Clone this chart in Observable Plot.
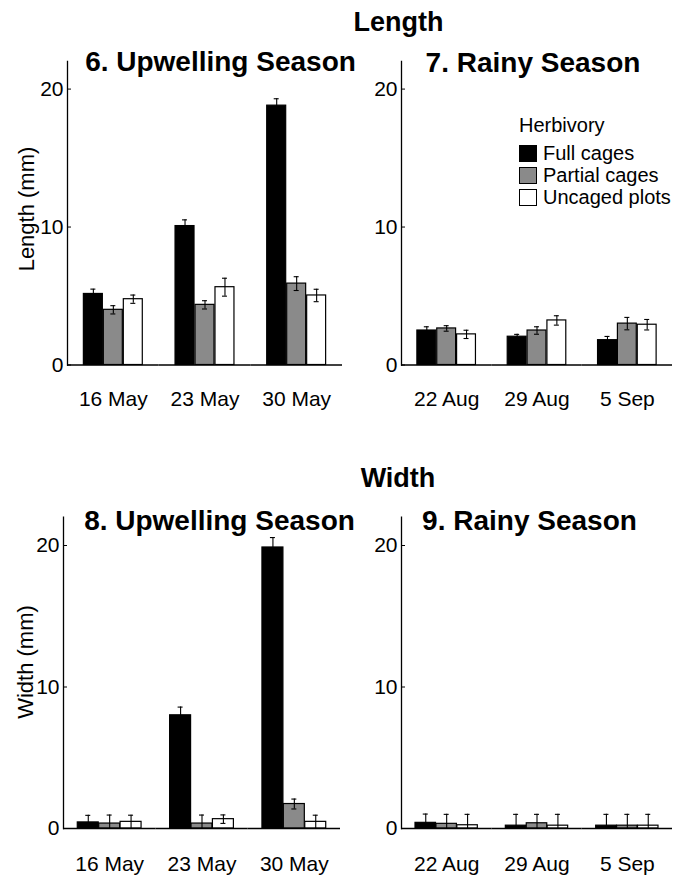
<!DOCTYPE html>
<html>
<head>
<meta charset="utf-8">
<script src="https://cdn.jsdelivr.net/npm/d3@7"></script>
<script src="https://cdn.jsdelivr.net/npm/@observablehq/plot@0.6"></script>
<style>
  html, body { margin: 0; padding: 0; background: #fff; }
  #chart { position: relative; width: 679px; height: 878px; overflow: hidden;
           font-family: "Liberation Sans", Arial, sans-serif; color: #000; }
  .abs { position: absolute; white-space: nowrap; }
  .title { font-weight: bold; text-align: center; width: 400px; }
  .leg { font-size: 20px; line-height: 20px; }
  .ylab { font-size: 22px; line-height: 22px; width: 200px; text-align: center;
          transform: rotate(-90deg); transform-origin: 50% 50%; }
  .sw { position: absolute; width: 16px; height: 15px; border: 1.2px solid #000; }
  svg { overflow: visible; }
</style>
</head>
<body>
<div id="chart"></div>
<script>
// ---------- data ----------
const treatments = ["Full cages", "Partial cages", "Uncaged plots"];
const treatmentColors = ["#000000", "#8a8a8a", "#ffffff"];
const datesUpwelling = ["16 May", "23 May", "30 May"];
const datesRainy = ["22 Aug", "29 Aug", "5 Sep"];
const yTicks = [0, 10, 20];

// rows = dates, columns = treatments (Full, Partial, Uncaged)
const lengthUpwelling   = [[5.15, 4.0, 4.77], [10.07, 4.36, 5.64], [18.8, 5.9, 5.04]];
const lengthUpwellingSE = [[0.35, 0.3, 0.3], [0.45, 0.3, 0.65], [0.5, 0.5, 0.45]];
const lengthRainy       = [[2.5, 2.65, 2.22], [2.05, 2.5, 3.23], [1.8, 3.0, 2.92]];
const lengthRainySE     = [[0.27, 0.2, 0.3], [0.17, 0.27, 0.34], [0.27, 0.45, 0.38]];
const widthUpwelling    = [[0.43, 0.35, 0.47], [8.0, 0.35, 0.66], [19.86, 1.73, 0.47]];
const widthUpwellingSE  = [[0.5, 0.6, 0.47], [0.58, 0.6, 0.3], [0.7, 0.35, 0.47]];
const widthRainy        = [[0.4, 0.33, 0.23], [0.2, 0.37, 0.2], [0.2, 0.2, 0.2]];
const widthRainySE      = [[0.62, 0.67, 0.77], [0.8, 0.63, 0.8], [0.8, 0.8, 0.8]];

const FONT = '"Liberation Sans", Arial, sans-serif';
const chart = document.getElementById("chart");

function makePanel(o) {
  const data = [];
  o.dates.forEach((d, i) => treatments.forEach((t, j) =>
    data.push({date: d, treatment: t, value: o.values[i][j], err: o.errs[i][j]})));
  const frameW = o.width - o.marginLeft - o.marginRight;
  const facetW = frameW / o.dates.length;
  const step = facetW / (treatments.length - o.pi + 2 * o.po);
  const bw = step * (1 - o.pi);
  const capInset = (bw - 5) / 2;
  const lo = d => Math.max(0, d.value - d.err);
  const hi = d => d.value + d.err;
  const svg = Plot.plot({
    width: o.width, height: o.height,
    marginLeft: o.marginLeft, marginRight: o.marginRight,
    marginTop: o.marginTop, marginBottom: o.marginBottom,
    style: {fontFamily: FONT, fontSize: "21px", color: "#000", background: "transparent", overflow: "visible"},
    fx: {domain: o.dates, padding: 0, round: false, label: null},
    x: {domain: treatments, paddingInner: o.pi, paddingOuter: o.po, round: false, axis: null},
    y: {domain: [0, 22], axis: null},
    color: {domain: treatments, range: treatmentColors},
    marks: [
      Plot.barY(data, {fx: "date", x: "treatment", y: "value", fill: "treatment",
        stroke: "#000", strokeWidth: 1.2}),
      Plot.ruleX(data, {fx: "date", x: "treatment", y1: lo, y2: hi, stroke: "#000", strokeWidth: 1.1}),
      Plot.tickY(data, {fx: "date", x: "treatment", y: hi, insetLeft: capInset, insetRight: capInset,
        stroke: "#000", strokeWidth: 1.1}),
      Plot.tickY(data.filter(d => lo(d) > 0), {fx: "date", x: "treatment", y: lo,
        insetLeft: capInset, insetRight: capInset, stroke: "#000", strokeWidth: 1.1}),
      Plot.ruleY([0], {stroke: "#000", strokeWidth: 1.3}),
      Plot.frame({anchor: "left", facetAnchor: "left", stroke: "#000", strokeWidth: 1.3}),
      Plot.tickY(yTicks, {y: d => d, insetRight: facetW - 4, facetAnchor: "left",
        stroke: "#000", strokeWidth: 1}),
      Plot.axisY({ticks: yTicks, tickSize: 0, tickPadding: 4, label: null, fontSize: 21}),
      Plot.axisFx({anchor: "bottom", tickSize: 0, tickPadding: o.datePad, label: null, fontSize: 21})
    ]
  });
  svg.style.position = "absolute";
  svg.style.left = o.left + "px";
  svg.style.top = o.top + "px";
  chart.appendChild(svg);
}

// top row: frame y 61..364.5
makePanel({dates: datesUpwelling, values: lengthUpwelling, errs: lengthUpwellingSE,
  left: 0, top: 40, width: 345, height: 380, marginLeft: 67, marginRight: 3,
  marginTop: 21, marginBottom: 55.5, pi: 0.05, po: 0.82, datePad: 26});
makePanel({dates: datesRainy, values: lengthRainy, errs: lengthRainySE,
  left: 345, top: 40, width: 334, height: 380, marginLeft: 56, marginRight: 7,
  marginTop: 21, marginBottom: 55.5, pi: 0.05, po: 0.8, datePad: 26});
// bottom row: frame y 516.7..828
makePanel({dates: datesUpwelling, values: widthUpwelling, errs: widthUpwellingSE,
  left: 0, top: 500, width: 345, height: 378, marginLeft: 63, marginRight: 5,
  marginTop: 16.7, marginBottom: 50, pi: 0.02, po: 0.667, datePad: 28});
makePanel({dates: datesRainy, values: widthRainy, errs: widthRainySE,
  left: 345, top: 500, width: 334, height: 378, marginLeft: 56, marginRight: 7,
  marginTop: 16.7, marginBottom: 50, pi: 0.02, po: 0.67, datePad: 28});

// ---------- titles ----------
function title(text, cx, baseline, size) {
  const el = document.createElement("div");
  el.className = "abs title";
  el.textContent = text;
  el.style.fontSize = size + "px";
  el.style.lineHeight = size + "px";
  el.style.left = (cx - 200) + "px";
  el.style.top = (baseline - 0.8465 * size) + "px";
  chart.appendChild(el);
}
title("Length", 398.5, 32, 27);
title("6. Upwelling Season", 220.5, 72, 28);
title("7. Rainy Season", 533, 72.5, 28);
title("Width", 398, 488, 27);
title("8. Upwelling Season", 219.5, 531, 28);
title("9. Rainy Season", 529.5, 531, 28);

// ---------- y-axis labels ----------
function yLabel(text, cx, cy) {
  const el = document.createElement("div");
  el.className = "abs ylab";
  el.textContent = text;
  el.style.left = (cx - 100) + "px";
  el.style.top = (cy - 11) + "px";
  chart.appendChild(el);
}
yLabel("Length (mm)", 27, 209);
yLabel("Width (mm)", 26, 662);

// ---------- legend ----------
function legText(text, x, baseline) {
  const el = document.createElement("div");
  el.className = "abs leg";
  el.textContent = text;
  el.style.left = x + "px";
  el.style.top = (baseline - 0.8465 * 20) + "px";
  chart.appendChild(el);
}
legText("Herbivory", 519, 132);
const legBase = [160, 182, 203.5];
const swTop = [145, 167, 188.5];
treatments.forEach((t, i) => {
  const sw = document.createElement("div");
  sw.className = "sw";
  sw.style.left = "519px";
  sw.style.top = swTop[i] + "px";
  sw.style.background = treatmentColors[i];
  chart.appendChild(sw);
  legText(t, 543, legBase[i]);
});
</script>
</body>
</html>
